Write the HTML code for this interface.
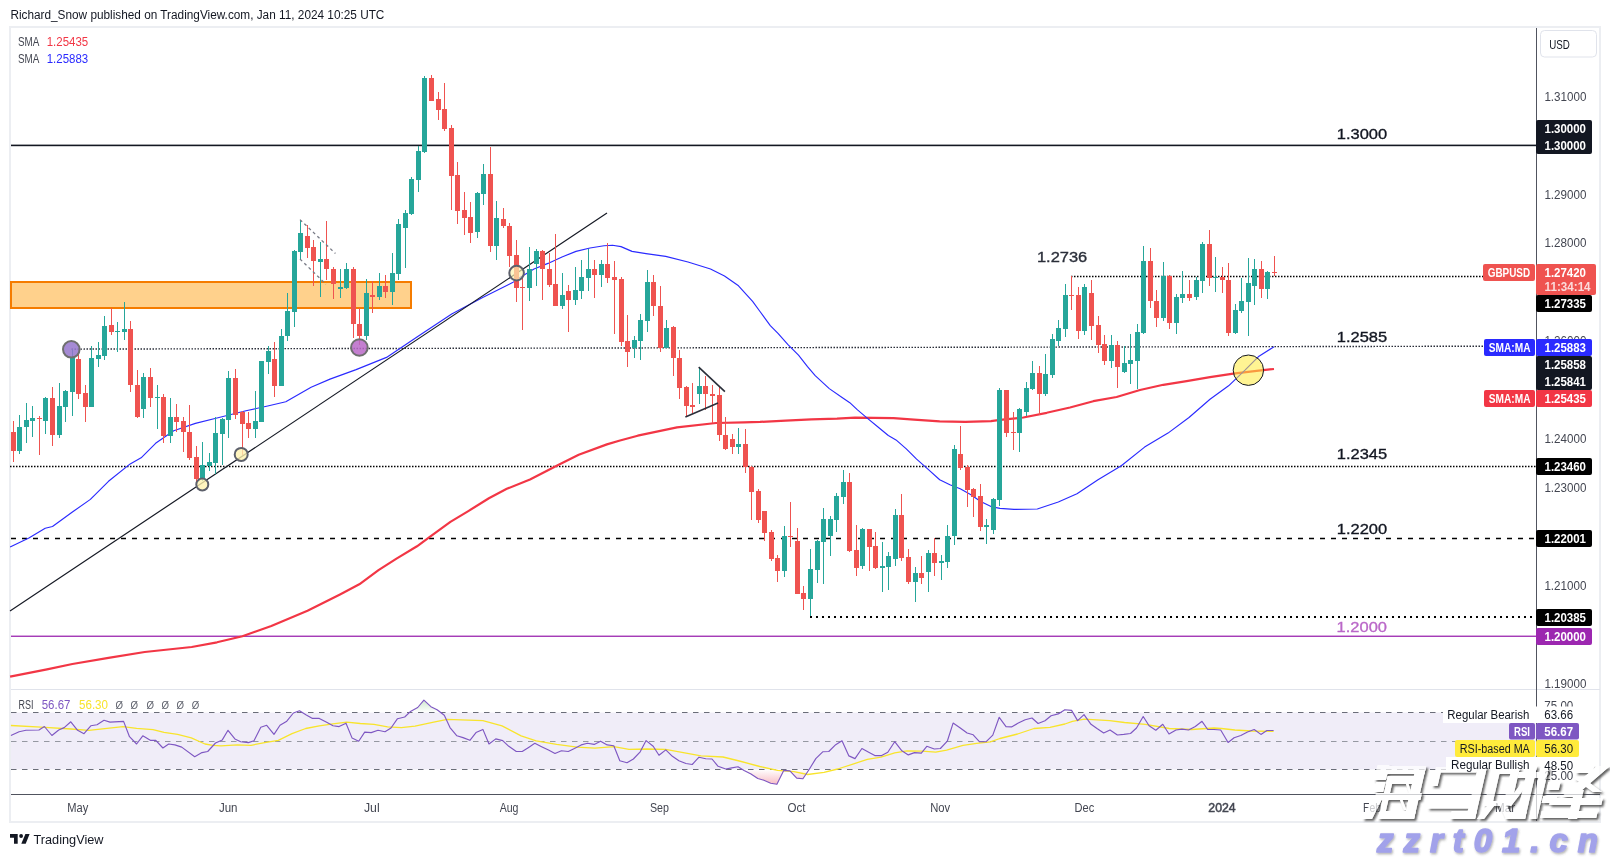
<!DOCTYPE html>
<html><head><meta charset="utf-8">
<style>
html,body{margin:0;padding:0;background:#fff;}
body{width:1610px;height:857px;overflow:hidden;position:relative;font-family:"Liberation Sans",sans-serif;}
svg{position:absolute;left:0;top:0;will-change:transform;}
text{font-family:"Liberation Sans",sans-serif;}
</style></head><body>
<svg width="1610" height="857" viewBox="0 0 1610 857">
<defs>
<clipPath id="cpOB"><rect x="0" y="680" width="1536" height="32.5"/></clipPath>
<clipPath id="cpOS"><rect x="0" y="769.5" width="1536" height="24"/></clipPath>
<linearGradient id="gOB" gradientUnits="userSpaceOnUse" x1="0" y1="700" x2="0" y2="712.5"><stop offset="0" stop-color="#cfe9cf"/><stop offset="1" stop-color="#ffffff"/></linearGradient>
<linearGradient id="gOS" gradientUnits="userSpaceOnUse" x1="0" y1="769.5" x2="0" y2="785"><stop offset="0" stop-color="#ffffff"/><stop offset="1" stop-color="#f7b9c2"/></linearGradient>
<filter id="wsh" x="-5%" y="-20%" width="115%" height="150%">
<feGaussianBlur in="SourceAlpha" stdDeviation="1" result="blur"/>
<feOffset in="blur" dx="1.5" dy="2" result="off"/>
<feFlood flood-color="#3a3a3a" flood-opacity="0.8" result="col"/>
<feComposite in="col" in2="off" operator="in" result="sh"/>
<feComposite in="sh" in2="SourceAlpha" operator="out" result="sh2"/>
<feColorMatrix in="SourceGraphic" type="matrix" values="1 0 0 0 0  0 1 0 0 0  0 0 1 0 0  0 0 0 0.72 0" result="wh"/>
<feMerge><feMergeNode in="sh2"/><feMergeNode in="wh"/></feMerge>
</filter>
<filter id="zsh" x="-5%" y="-20%" width="115%" height="150%"><feDropShadow dx="1" dy="1.5" stdDeviation="0.8" flood-color="#555" flood-opacity="0.45"/></filter>
</defs>
<!-- title -->
<text x="10.4" y="19" font-size="12" fill="#131722" textLength="374" lengthAdjust="spacingAndGlyphs">Richard_Snow published on TradingView.com, Jan 11, 2024 10:25 UTC</text>
<!-- frame -->
<rect x="10" y="27" width="1590" height="795" fill="none" stroke="#eceef2" stroke-width="2"/>
<!-- RSI band -->
<rect x="11" y="712.5" width="1525" height="57" fill="#f0edf8"/>
<!-- panel separator -->
<rect x="11" y="689" width="1589" height="1" fill="#e0e3eb"/>
<!-- axis separators -->
<rect x="1536" y="28" width="1" height="766" fill="#50535e"/>
<rect x="11" y="794" width="1589" height="1" fill="#50535e"/>
<rect x="1536" y="794" width="1" height="27" fill="#50535e"/>
<!-- orange zone -->
<rect x="11" y="282" width="400" height="26" fill="#ffcc80" fill-opacity="0.9" stroke="#f57c00" stroke-width="2"/>
<!-- horizontal lines -->
<rect x="11" y="144.6" width="1525" height="1.6" fill="#131722"/>
<line x1="1071" y1="276.5" x2="1483" y2="276.5" stroke="#000" stroke-width="1.6" stroke-dasharray="1.5 1.5"/>
<line x1="71.5" y1="349.1" x2="1484" y2="346.2" stroke="#2a2e39" stroke-width="1.4" stroke-dasharray="1.5 1.5"/>
<line x1="10" y1="466.5" x2="1536" y2="466.5" stroke="#000" stroke-width="1.5" stroke-dasharray="1.5 1.5"/>
<line x1="11" y1="538.5" x2="1536" y2="538.5" stroke="#000" stroke-width="1.6" stroke-dasharray="5 6"/>
<line x1="810" y1="617" x2="1536" y2="617" stroke="#000" stroke-width="2" stroke-dasharray="2 4"/>
<rect x="11" y="635.6" width="1525" height="1.3" fill="#9c27b0"/>
<!-- MAs -->
<polyline points="10.1,676.7 47,669.4 72.4,664 108.5,657.9 144.7,652 191.7,647 217,642.3 242.4,636.2 271.3,626 307.5,610.8 340,594.5 359.3,584.3 378.5,570.2 396.5,558.6 417,546.3 429.8,536.8 450.4,521.9 468.3,511.1 488.9,498.3 506.8,488.8 530,479.5 558.2,464.9 578.7,454.7 606.9,444.4 620,440.5 637.7,435.7 677,427.3 716,423 744,422.3 760,421.9 785.7,420.6 811.3,419.4 837,418.6 855,417.6 893.5,418.1 914,419.6 939.7,421.4 965.3,421.9 991,421.1 1000,419.9 1023.3,417.5 1046.7,412.8 1070,407.5 1093.3,401.2 1116.6,397 1140,390 1163.3,384.8 1186.6,381.1 1210,377.1 1233.3,373.7 1256.6,370.9 1274,369" fill="none" stroke="#f23645" stroke-width="2.2" stroke-linejoin="round"/>
<polyline points="10.1,547.1 28.9,538.1 45.2,528.3 52.5,526.5 72.4,512 90.4,499.4 108.5,481.3 130.2,463.9 141.1,457.8 155.6,443.3 173.7,430.7 195.4,423.4 217,418 246,410.8 267.7,406 285.8,401.7 311.1,387.2 330,379.1 356.1,369.6 386.5,357.4 417,337 451.7,313.9 482.2,297.8 512.6,282.6 520,277.4 534,269 548,263.4 562,257 576,251.4 590,248 604,245.8 612.5,245.2 621,246.6 632,251.4 646,253.6 665.7,256.4 688,262 710.5,269 724.5,276 738.5,285.8 752.6,301.3 760,311.5 770.3,325.7 778,333.4 788.2,344.9 798.5,355.2 807.5,366.7 815.2,375.7 829.3,388.6 842.1,397.5 849.8,402.7 857.5,409.9 867.8,418.6 878,427 888.3,435.5 896,439.9 906.3,448.9 916.6,459.1 926.8,468.1 939.7,479.7 949.9,484.8 960.2,488.7 970.5,494.6 980.7,501.5 991,506.6 1000,508.4 1014,509.4 1037.3,509 1058.3,502 1077,493.8 1098,479.8 1121.3,465.8 1144.6,447.1 1168,433.1 1189,417.5 1210,399.3 1228.6,385.8 1245,370.2 1259,356.2 1274,346.8" fill="none" stroke="#2a2aff" stroke-width="1.15" stroke-linejoin="round"/>
<!-- trendline -->
<line x1="10" y1="611" x2="607" y2="213" stroke="#131722" stroke-width="1.15"/>
<!-- candles -->
<rect x="13" y="421" width="1" height="41" fill="#ef5350"/>
<rect x="11" y="432" width="5" height="19" fill="#ef5350"/>
<rect x="19" y="415" width="1" height="39" fill="#26a69a"/>
<rect x="17" y="427" width="5" height="24" fill="#26a69a"/>
<rect x="26" y="403" width="1" height="40" fill="#26a69a"/>
<rect x="24" y="420" width="5" height="7" fill="#26a69a"/>
<rect x="32" y="406" width="1" height="31" fill="#26a69a"/>
<rect x="30" y="418" width="5" height="3" fill="#26a69a"/>
<rect x="39" y="416" width="1" height="39" fill="#ef5350"/>
<rect x="37" y="418" width="5" height="1" fill="#ef5350"/>
<rect x="45" y="397" width="1" height="37" fill="#26a69a"/>
<rect x="43" y="398" width="5" height="23" fill="#26a69a"/>
<rect x="52" y="387" width="1" height="59" fill="#ef5350"/>
<rect x="50" y="398" width="5" height="37" fill="#ef5350"/>
<rect x="59" y="383" width="1" height="55" fill="#26a69a"/>
<rect x="57" y="406" width="5" height="29" fill="#26a69a"/>
<rect x="65" y="390" width="1" height="32" fill="#26a69a"/>
<rect x="63" y="391" width="5" height="16" fill="#26a69a"/>
<rect x="72" y="349" width="1" height="67" fill="#26a69a"/>
<rect x="70" y="357" width="5" height="35" fill="#26a69a"/>
<rect x="78" y="354" width="1" height="45" fill="#ef5350"/>
<rect x="76" y="359" width="5" height="35" fill="#ef5350"/>
<rect x="85" y="385" width="1" height="37" fill="#ef5350"/>
<rect x="83" y="393" width="5" height="14" fill="#ef5350"/>
<rect x="91" y="346" width="1" height="61" fill="#26a69a"/>
<rect x="89" y="358" width="5" height="49" fill="#26a69a"/>
<rect x="98" y="342" width="1" height="25" fill="#26a69a"/>
<rect x="96" y="355" width="5" height="4" fill="#26a69a"/>
<rect x="104" y="316" width="1" height="44" fill="#26a69a"/>
<rect x="102" y="326" width="5" height="30" fill="#26a69a"/>
<rect x="111" y="308" width="1" height="27" fill="#ef5350"/>
<rect x="109" y="325" width="5" height="7" fill="#ef5350"/>
<rect x="117" y="322" width="1" height="30" fill="#26a69a"/>
<rect x="115" y="331" width="5" height="1" fill="#26a69a"/>
<rect x="124" y="302" width="1" height="38" fill="#26a69a"/>
<rect x="122" y="329" width="5" height="3" fill="#26a69a"/>
<rect x="130" y="321" width="1" height="71" fill="#ef5350"/>
<rect x="128" y="329" width="5" height="56" fill="#ef5350"/>
<rect x="137" y="370" width="1" height="48" fill="#ef5350"/>
<rect x="135" y="385" width="5" height="32" fill="#ef5350"/>
<rect x="143" y="373" width="1" height="45" fill="#26a69a"/>
<rect x="141" y="377" width="5" height="32" fill="#26a69a"/>
<rect x="150" y="368" width="1" height="39" fill="#ef5350"/>
<rect x="148" y="377" width="5" height="21" fill="#ef5350"/>
<rect x="157" y="385" width="1" height="44" fill="#26a69a"/>
<rect x="155" y="397" width="5" height="1" fill="#26a69a"/>
<rect x="163" y="394" width="1" height="49" fill="#ef5350"/>
<rect x="161" y="397" width="5" height="39" fill="#ef5350"/>
<rect x="170" y="398" width="1" height="45" fill="#26a69a"/>
<rect x="168" y="417" width="5" height="19" fill="#26a69a"/>
<rect x="176" y="404" width="1" height="28" fill="#ef5350"/>
<rect x="174" y="417" width="5" height="5" fill="#ef5350"/>
<rect x="183" y="417" width="1" height="35" fill="#ef5350"/>
<rect x="181" y="421" width="5" height="11" fill="#ef5350"/>
<rect x="189" y="405" width="1" height="55" fill="#ef5350"/>
<rect x="187" y="432" width="5" height="26" fill="#ef5350"/>
<rect x="196" y="446" width="1" height="38" fill="#ef5350"/>
<rect x="194" y="457" width="5" height="22" fill="#ef5350"/>
<rect x="202" y="442" width="1" height="39" fill="#26a69a"/>
<rect x="200" y="465" width="5" height="13" fill="#26a69a"/>
<rect x="209" y="453" width="1" height="18" fill="#26a69a"/>
<rect x="207" y="462" width="5" height="4" fill="#26a69a"/>
<rect x="215" y="417" width="1" height="57" fill="#26a69a"/>
<rect x="213" y="433" width="5" height="30" fill="#26a69a"/>
<rect x="222" y="418" width="1" height="47" fill="#26a69a"/>
<rect x="220" y="419" width="5" height="15" fill="#26a69a"/>
<rect x="228" y="371" width="1" height="67" fill="#26a69a"/>
<rect x="226" y="378" width="5" height="42" fill="#26a69a"/>
<rect x="235" y="369" width="1" height="50" fill="#ef5350"/>
<rect x="233" y="378" width="5" height="37" fill="#ef5350"/>
<rect x="242" y="411" width="1" height="44" fill="#ef5350"/>
<rect x="240" y="412" width="5" height="12" fill="#ef5350"/>
<rect x="248" y="412" width="1" height="26" fill="#ef5350"/>
<rect x="246" y="423" width="5" height="6" fill="#ef5350"/>
<rect x="255" y="391" width="1" height="47" fill="#26a69a"/>
<rect x="253" y="421" width="5" height="8" fill="#26a69a"/>
<rect x="261" y="361" width="1" height="61" fill="#26a69a"/>
<rect x="259" y="361" width="5" height="61" fill="#26a69a"/>
<rect x="268" y="346" width="1" height="28" fill="#26a69a"/>
<rect x="266" y="351" width="5" height="11" fill="#26a69a"/>
<rect x="274" y="342" width="1" height="55" fill="#ef5350"/>
<rect x="272" y="359" width="5" height="27" fill="#ef5350"/>
<rect x="281" y="329" width="1" height="57" fill="#26a69a"/>
<rect x="279" y="336" width="5" height="50" fill="#26a69a"/>
<rect x="287" y="293" width="1" height="48" fill="#26a69a"/>
<rect x="285" y="311" width="5" height="25" fill="#26a69a"/>
<rect x="294" y="250" width="1" height="77" fill="#26a69a"/>
<rect x="292" y="251" width="5" height="61" fill="#26a69a"/>
<rect x="300" y="220" width="1" height="39" fill="#26a69a"/>
<rect x="298" y="233" width="5" height="19" fill="#26a69a"/>
<rect x="307" y="225" width="1" height="33" fill="#ef5350"/>
<rect x="305" y="236" width="5" height="12" fill="#ef5350"/>
<rect x="313" y="240" width="1" height="46" fill="#ef5350"/>
<rect x="311" y="247" width="5" height="14" fill="#ef5350"/>
<rect x="320" y="242" width="1" height="55" fill="#26a69a"/>
<rect x="318" y="259" width="5" height="3" fill="#26a69a"/>
<rect x="326" y="221" width="1" height="59" fill="#ef5350"/>
<rect x="324" y="259" width="5" height="10" fill="#ef5350"/>
<rect x="333" y="267" width="1" height="32" fill="#ef5350"/>
<rect x="331" y="269" width="5" height="15" fill="#ef5350"/>
<rect x="340" y="269" width="1" height="29" fill="#26a69a"/>
<rect x="338" y="287" width="5" height="2" fill="#26a69a"/>
<rect x="346" y="263" width="1" height="26" fill="#26a69a"/>
<rect x="344" y="269" width="5" height="19" fill="#26a69a"/>
<rect x="353" y="267" width="1" height="71" fill="#ef5350"/>
<rect x="351" y="269" width="5" height="55" fill="#ef5350"/>
<rect x="359" y="308" width="1" height="37" fill="#ef5350"/>
<rect x="357" y="324" width="5" height="12" fill="#ef5350"/>
<rect x="366" y="279" width="1" height="61" fill="#26a69a"/>
<rect x="364" y="293" width="5" height="43" fill="#26a69a"/>
<rect x="372" y="281" width="1" height="32" fill="#ef5350"/>
<rect x="370" y="295" width="5" height="2" fill="#ef5350"/>
<rect x="379" y="273" width="1" height="27" fill="#26a69a"/>
<rect x="377" y="286" width="5" height="11" fill="#26a69a"/>
<rect x="385" y="275" width="1" height="23" fill="#ef5350"/>
<rect x="383" y="286" width="5" height="6" fill="#ef5350"/>
<rect x="392" y="253" width="1" height="52" fill="#26a69a"/>
<rect x="390" y="273" width="5" height="19" fill="#26a69a"/>
<rect x="398" y="219" width="1" height="61" fill="#26a69a"/>
<rect x="396" y="224" width="5" height="50" fill="#26a69a"/>
<rect x="405" y="210" width="1" height="58" fill="#26a69a"/>
<rect x="403" y="213" width="5" height="15" fill="#26a69a"/>
<rect x="411" y="177" width="1" height="38" fill="#26a69a"/>
<rect x="409" y="179" width="5" height="35" fill="#26a69a"/>
<rect x="418" y="146" width="1" height="46" fill="#26a69a"/>
<rect x="416" y="151" width="5" height="29" fill="#26a69a"/>
<rect x="424" y="76" width="1" height="77" fill="#26a69a"/>
<rect x="422" y="78" width="5" height="74" fill="#26a69a"/>
<rect x="431" y="75" width="1" height="26" fill="#ef5350"/>
<rect x="429" y="78" width="5" height="23" fill="#ef5350"/>
<rect x="438" y="92" width="1" height="28" fill="#ef5350"/>
<rect x="436" y="99" width="5" height="11" fill="#ef5350"/>
<rect x="444" y="83" width="1" height="48" fill="#ef5350"/>
<rect x="442" y="109" width="5" height="20" fill="#ef5350"/>
<rect x="451" y="125" width="1" height="85" fill="#ef5350"/>
<rect x="449" y="128" width="5" height="48" fill="#ef5350"/>
<rect x="457" y="162" width="1" height="62" fill="#ef5350"/>
<rect x="455" y="175" width="5" height="36" fill="#ef5350"/>
<rect x="464" y="192" width="1" height="43" fill="#ef5350"/>
<rect x="462" y="210" width="5" height="8" fill="#ef5350"/>
<rect x="470" y="202" width="1" height="41" fill="#ef5350"/>
<rect x="468" y="217" width="5" height="16" fill="#ef5350"/>
<rect x="477" y="192" width="1" height="46" fill="#26a69a"/>
<rect x="475" y="193" width="5" height="39" fill="#26a69a"/>
<rect x="483" y="164" width="1" height="41" fill="#26a69a"/>
<rect x="481" y="174" width="5" height="20" fill="#26a69a"/>
<rect x="490" y="147" width="1" height="105" fill="#ef5350"/>
<rect x="488" y="174" width="5" height="72" fill="#ef5350"/>
<rect x="496" y="201" width="1" height="59" fill="#26a69a"/>
<rect x="494" y="218" width="5" height="28" fill="#26a69a"/>
<rect x="503" y="208" width="1" height="20" fill="#ef5350"/>
<rect x="501" y="219" width="5" height="7" fill="#ef5350"/>
<rect x="509" y="223" width="1" height="44" fill="#ef5350"/>
<rect x="507" y="226" width="5" height="30" fill="#ef5350"/>
<rect x="516" y="240" width="1" height="62" fill="#ef5350"/>
<rect x="514" y="255" width="5" height="33" fill="#ef5350"/>
<rect x="522" y="278" width="1" height="52" fill="#ef5350"/>
<rect x="520" y="287" width="5" height="1" fill="#ef5350"/>
<rect x="529" y="247" width="1" height="54" fill="#26a69a"/>
<rect x="527" y="269" width="5" height="19" fill="#26a69a"/>
<rect x="536" y="249" width="1" height="37" fill="#26a69a"/>
<rect x="534" y="251" width="5" height="13" fill="#26a69a"/>
<rect x="542" y="250" width="1" height="50" fill="#ef5350"/>
<rect x="540" y="251" width="5" height="18" fill="#ef5350"/>
<rect x="549" y="253" width="1" height="34" fill="#ef5350"/>
<rect x="547" y="269" width="5" height="16" fill="#ef5350"/>
<rect x="555" y="234" width="1" height="72" fill="#ef5350"/>
<rect x="553" y="284" width="5" height="22" fill="#ef5350"/>
<rect x="562" y="273" width="1" height="36" fill="#26a69a"/>
<rect x="560" y="295" width="5" height="11" fill="#26a69a"/>
<rect x="568" y="285" width="1" height="47" fill="#ef5350"/>
<rect x="566" y="291" width="5" height="9" fill="#ef5350"/>
<rect x="575" y="267" width="1" height="38" fill="#26a69a"/>
<rect x="573" y="290" width="5" height="10" fill="#26a69a"/>
<rect x="581" y="260" width="1" height="39" fill="#26a69a"/>
<rect x="579" y="277" width="5" height="14" fill="#26a69a"/>
<rect x="588" y="249" width="1" height="42" fill="#26a69a"/>
<rect x="586" y="269" width="5" height="9" fill="#26a69a"/>
<rect x="594" y="260" width="1" height="38" fill="#ef5350"/>
<rect x="592" y="269" width="5" height="6" fill="#ef5350"/>
<rect x="601" y="260" width="1" height="27" fill="#26a69a"/>
<rect x="599" y="264" width="5" height="11" fill="#26a69a"/>
<rect x="607" y="243" width="1" height="40" fill="#ef5350"/>
<rect x="605" y="264" width="5" height="14" fill="#ef5350"/>
<rect x="614" y="261" width="1" height="73" fill="#ef5350"/>
<rect x="612" y="277" width="5" height="3" fill="#ef5350"/>
<rect x="621" y="277" width="1" height="69" fill="#ef5350"/>
<rect x="619" y="279" width="5" height="63" fill="#ef5350"/>
<rect x="627" y="315" width="1" height="52" fill="#ef5350"/>
<rect x="625" y="341" width="5" height="11" fill="#ef5350"/>
<rect x="634" y="336" width="1" height="22" fill="#26a69a"/>
<rect x="632" y="340" width="5" height="8" fill="#26a69a"/>
<rect x="640" y="314" width="1" height="46" fill="#26a69a"/>
<rect x="638" y="320" width="5" height="21" fill="#26a69a"/>
<rect x="647" y="270" width="1" height="62" fill="#26a69a"/>
<rect x="645" y="282" width="5" height="39" fill="#26a69a"/>
<rect x="653" y="275" width="1" height="41" fill="#ef5350"/>
<rect x="651" y="282" width="5" height="24" fill="#ef5350"/>
<rect x="660" y="286" width="1" height="66" fill="#ef5350"/>
<rect x="658" y="306" width="5" height="42" fill="#ef5350"/>
<rect x="666" y="320" width="1" height="28" fill="#26a69a"/>
<rect x="664" y="328" width="5" height="20" fill="#26a69a"/>
<rect x="673" y="326" width="1" height="50" fill="#ef5350"/>
<rect x="671" y="327" width="5" height="31" fill="#ef5350"/>
<rect x="679" y="350" width="1" height="49" fill="#ef5350"/>
<rect x="677" y="358" width="5" height="30" fill="#ef5350"/>
<rect x="686" y="386" width="1" height="31" fill="#ef5350"/>
<rect x="684" y="387" width="5" height="19" fill="#ef5350"/>
<rect x="692" y="383" width="1" height="30" fill="#ef5350"/>
<rect x="690" y="405" width="5" height="2" fill="#ef5350"/>
<rect x="699" y="367" width="1" height="37" fill="#26a69a"/>
<rect x="697" y="386" width="5" height="8" fill="#26a69a"/>
<rect x="705" y="376" width="1" height="34" fill="#ef5350"/>
<rect x="703" y="386" width="5" height="8" fill="#ef5350"/>
<rect x="712" y="385" width="1" height="38" fill="#ef5350"/>
<rect x="710" y="394" width="5" height="2" fill="#ef5350"/>
<rect x="719" y="387" width="1" height="54" fill="#ef5350"/>
<rect x="717" y="395" width="5" height="40" fill="#ef5350"/>
<rect x="725" y="417" width="1" height="33" fill="#ef5350"/>
<rect x="723" y="435" width="5" height="14" fill="#ef5350"/>
<rect x="732" y="434" width="1" height="20" fill="#ef5350"/>
<rect x="730" y="439" width="5" height="8" fill="#ef5350"/>
<rect x="738" y="428" width="1" height="26" fill="#26a69a"/>
<rect x="736" y="444" width="5" height="3" fill="#26a69a"/>
<rect x="745" y="429" width="1" height="44" fill="#ef5350"/>
<rect x="743" y="444" width="5" height="23" fill="#ef5350"/>
<rect x="751" y="466" width="1" height="54" fill="#ef5350"/>
<rect x="749" y="467" width="5" height="25" fill="#ef5350"/>
<rect x="758" y="489" width="1" height="34" fill="#ef5350"/>
<rect x="756" y="491" width="5" height="29" fill="#ef5350"/>
<rect x="764" y="511" width="1" height="30" fill="#ef5350"/>
<rect x="762" y="511" width="5" height="22" fill="#ef5350"/>
<rect x="771" y="530" width="1" height="31" fill="#ef5350"/>
<rect x="769" y="532" width="5" height="27" fill="#ef5350"/>
<rect x="777" y="555" width="1" height="27" fill="#ef5350"/>
<rect x="775" y="558" width="5" height="13" fill="#ef5350"/>
<rect x="784" y="526" width="1" height="51" fill="#26a69a"/>
<rect x="782" y="536" width="5" height="35" fill="#26a69a"/>
<rect x="790" y="502" width="1" height="45" fill="#ef5350"/>
<rect x="788" y="536" width="5" height="1" fill="#ef5350"/>
<rect x="797" y="528" width="1" height="66" fill="#ef5350"/>
<rect x="795" y="541" width="5" height="53" fill="#ef5350"/>
<rect x="803" y="586" width="1" height="24" fill="#ef5350"/>
<rect x="801" y="593" width="5" height="6" fill="#ef5350"/>
<rect x="810" y="549" width="1" height="67" fill="#26a69a"/>
<rect x="808" y="569" width="5" height="30" fill="#26a69a"/>
<rect x="817" y="540" width="1" height="43" fill="#26a69a"/>
<rect x="815" y="541" width="5" height="29" fill="#26a69a"/>
<rect x="823" y="508" width="1" height="76" fill="#26a69a"/>
<rect x="821" y="519" width="5" height="23" fill="#26a69a"/>
<rect x="830" y="516" width="1" height="40" fill="#26a69a"/>
<rect x="828" y="519" width="5" height="17" fill="#26a69a"/>
<rect x="836" y="493" width="1" height="39" fill="#26a69a"/>
<rect x="834" y="496" width="5" height="24" fill="#26a69a"/>
<rect x="843" y="470" width="1" height="34" fill="#26a69a"/>
<rect x="841" y="482" width="5" height="15" fill="#26a69a"/>
<rect x="849" y="473" width="1" height="79" fill="#ef5350"/>
<rect x="847" y="482" width="5" height="69" fill="#ef5350"/>
<rect x="856" y="525" width="1" height="51" fill="#ef5350"/>
<rect x="854" y="550" width="5" height="18" fill="#ef5350"/>
<rect x="862" y="528" width="1" height="41" fill="#26a69a"/>
<rect x="860" y="529" width="5" height="37" fill="#26a69a"/>
<rect x="869" y="529" width="1" height="42" fill="#ef5350"/>
<rect x="867" y="529" width="5" height="18" fill="#ef5350"/>
<rect x="875" y="532" width="1" height="37" fill="#ef5350"/>
<rect x="873" y="546" width="5" height="22" fill="#ef5350"/>
<rect x="882" y="542" width="1" height="50" fill="#26a69a"/>
<rect x="880" y="566" width="5" height="2" fill="#26a69a"/>
<rect x="888" y="552" width="1" height="38" fill="#26a69a"/>
<rect x="886" y="556" width="5" height="11" fill="#26a69a"/>
<rect x="895" y="509" width="1" height="57" fill="#26a69a"/>
<rect x="893" y="515" width="5" height="44" fill="#26a69a"/>
<rect x="901" y="494" width="1" height="67" fill="#ef5350"/>
<rect x="899" y="515" width="5" height="43" fill="#ef5350"/>
<rect x="908" y="549" width="1" height="35" fill="#ef5350"/>
<rect x="906" y="557" width="5" height="25" fill="#ef5350"/>
<rect x="915" y="567" width="1" height="35" fill="#26a69a"/>
<rect x="913" y="573" width="5" height="9" fill="#26a69a"/>
<rect x="921" y="556" width="1" height="28" fill="#ef5350"/>
<rect x="919" y="573" width="5" height="5" fill="#ef5350"/>
<rect x="928" y="550" width="1" height="42" fill="#26a69a"/>
<rect x="926" y="553" width="5" height="19" fill="#26a69a"/>
<rect x="934" y="538" width="1" height="38" fill="#ef5350"/>
<rect x="932" y="553" width="5" height="10" fill="#ef5350"/>
<rect x="941" y="555" width="1" height="25" fill="#26a69a"/>
<rect x="939" y="561" width="5" height="2" fill="#26a69a"/>
<rect x="947" y="525" width="1" height="43" fill="#26a69a"/>
<rect x="945" y="536" width="5" height="26" fill="#26a69a"/>
<rect x="954" y="445" width="1" height="100" fill="#26a69a"/>
<rect x="952" y="449" width="5" height="87" fill="#26a69a"/>
<rect x="960" y="426" width="1" height="44" fill="#ef5350"/>
<rect x="958" y="454" width="5" height="14" fill="#ef5350"/>
<rect x="967" y="465" width="1" height="42" fill="#ef5350"/>
<rect x="965" y="467" width="5" height="23" fill="#ef5350"/>
<rect x="973" y="488" width="1" height="29" fill="#ef5350"/>
<rect x="971" y="489" width="5" height="8" fill="#ef5350"/>
<rect x="980" y="484" width="1" height="47" fill="#ef5350"/>
<rect x="978" y="496" width="5" height="31" fill="#ef5350"/>
<rect x="986" y="519" width="1" height="25" fill="#26a69a"/>
<rect x="984" y="525" width="5" height="2" fill="#26a69a"/>
<rect x="993" y="498" width="1" height="36" fill="#26a69a"/>
<rect x="991" y="499" width="5" height="31" fill="#26a69a"/>
<rect x="999" y="388" width="1" height="118" fill="#26a69a"/>
<rect x="997" y="390" width="5" height="110" fill="#26a69a"/>
<rect x="1006" y="390" width="1" height="47" fill="#ef5350"/>
<rect x="1004" y="390" width="5" height="43" fill="#ef5350"/>
<rect x="1013" y="412" width="1" height="38" fill="#ef5350"/>
<rect x="1011" y="432" width="5" height="1" fill="#ef5350"/>
<rect x="1019" y="408" width="1" height="44" fill="#26a69a"/>
<rect x="1017" y="409" width="5" height="24" fill="#26a69a"/>
<rect x="1026" y="382" width="1" height="34" fill="#26a69a"/>
<rect x="1024" y="388" width="5" height="24" fill="#26a69a"/>
<rect x="1032" y="361" width="1" height="29" fill="#26a69a"/>
<rect x="1030" y="373" width="5" height="16" fill="#26a69a"/>
<rect x="1039" y="366" width="1" height="49" fill="#ef5350"/>
<rect x="1037" y="373" width="5" height="21" fill="#ef5350"/>
<rect x="1045" y="354" width="1" height="42" fill="#26a69a"/>
<rect x="1043" y="374" width="5" height="20" fill="#26a69a"/>
<rect x="1052" y="334" width="1" height="44" fill="#26a69a"/>
<rect x="1050" y="339" width="5" height="36" fill="#26a69a"/>
<rect x="1058" y="320" width="1" height="26" fill="#26a69a"/>
<rect x="1056" y="328" width="5" height="13" fill="#26a69a"/>
<rect x="1065" y="284" width="1" height="53" fill="#26a69a"/>
<rect x="1063" y="295" width="5" height="34" fill="#26a69a"/>
<rect x="1071" y="276" width="1" height="34" fill="#ef5350"/>
<rect x="1069" y="295" width="5" height="1" fill="#ef5350"/>
<rect x="1078" y="287" width="1" height="52" fill="#ef5350"/>
<rect x="1076" y="295" width="5" height="36" fill="#ef5350"/>
<rect x="1084" y="284" width="1" height="51" fill="#26a69a"/>
<rect x="1082" y="287" width="5" height="44" fill="#26a69a"/>
<rect x="1091" y="280" width="1" height="60" fill="#ef5350"/>
<rect x="1089" y="293" width="5" height="33" fill="#ef5350"/>
<rect x="1098" y="316" width="1" height="37" fill="#ef5350"/>
<rect x="1096" y="325" width="5" height="20" fill="#ef5350"/>
<rect x="1104" y="335" width="1" height="30" fill="#ef5350"/>
<rect x="1102" y="344" width="5" height="17" fill="#ef5350"/>
<rect x="1111" y="335" width="1" height="33" fill="#26a69a"/>
<rect x="1109" y="345" width="5" height="16" fill="#26a69a"/>
<rect x="1117" y="341" width="1" height="47" fill="#ef5350"/>
<rect x="1115" y="345" width="5" height="22" fill="#ef5350"/>
<rect x="1124" y="346" width="1" height="27" fill="#26a69a"/>
<rect x="1122" y="363" width="5" height="9" fill="#26a69a"/>
<rect x="1130" y="334" width="1" height="50" fill="#26a69a"/>
<rect x="1128" y="360" width="5" height="4" fill="#26a69a"/>
<rect x="1137" y="324" width="1" height="65" fill="#26a69a"/>
<rect x="1135" y="332" width="5" height="29" fill="#26a69a"/>
<rect x="1143" y="246" width="1" height="88" fill="#26a69a"/>
<rect x="1141" y="261" width="5" height="72" fill="#26a69a"/>
<rect x="1150" y="248" width="1" height="60" fill="#ef5350"/>
<rect x="1148" y="261" width="5" height="40" fill="#ef5350"/>
<rect x="1156" y="290" width="1" height="37" fill="#ef5350"/>
<rect x="1154" y="301" width="5" height="17" fill="#ef5350"/>
<rect x="1163" y="262" width="1" height="59" fill="#26a69a"/>
<rect x="1161" y="276" width="5" height="42" fill="#26a69a"/>
<rect x="1169" y="275" width="1" height="54" fill="#ef5350"/>
<rect x="1167" y="276" width="5" height="47" fill="#ef5350"/>
<rect x="1176" y="294" width="1" height="40" fill="#26a69a"/>
<rect x="1174" y="297" width="5" height="26" fill="#26a69a"/>
<rect x="1182" y="271" width="1" height="32" fill="#26a69a"/>
<rect x="1180" y="294" width="5" height="4" fill="#26a69a"/>
<rect x="1189" y="280" width="1" height="21" fill="#ef5350"/>
<rect x="1187" y="294" width="5" height="4" fill="#ef5350"/>
<rect x="1196" y="277" width="1" height="23" fill="#26a69a"/>
<rect x="1194" y="280" width="5" height="17" fill="#26a69a"/>
<rect x="1202" y="242" width="1" height="51" fill="#26a69a"/>
<rect x="1200" y="244" width="5" height="37" fill="#26a69a"/>
<rect x="1209" y="230" width="1" height="56" fill="#ef5350"/>
<rect x="1207" y="244" width="5" height="34" fill="#ef5350"/>
<rect x="1215" y="257" width="1" height="35" fill="#26a69a"/>
<rect x="1213" y="277" width="5" height="1" fill="#26a69a"/>
<rect x="1222" y="267" width="1" height="26" fill="#ef5350"/>
<rect x="1220" y="277" width="5" height="3" fill="#ef5350"/>
<rect x="1228" y="263" width="1" height="73" fill="#ef5350"/>
<rect x="1226" y="280" width="5" height="53" fill="#ef5350"/>
<rect x="1235" y="304" width="1" height="30" fill="#26a69a"/>
<rect x="1233" y="310" width="5" height="23" fill="#26a69a"/>
<rect x="1241" y="278" width="1" height="35" fill="#26a69a"/>
<rect x="1239" y="301" width="5" height="10" fill="#26a69a"/>
<rect x="1248" y="258" width="1" height="78" fill="#26a69a"/>
<rect x="1246" y="283" width="5" height="19" fill="#26a69a"/>
<rect x="1254" y="259" width="1" height="46" fill="#26a69a"/>
<rect x="1252" y="269" width="5" height="17" fill="#26a69a"/>
<rect x="1261" y="261" width="1" height="37" fill="#ef5350"/>
<rect x="1259" y="269" width="5" height="20" fill="#ef5350"/>
<rect x="1267" y="271" width="1" height="28" fill="#26a69a"/>
<rect x="1265" y="272" width="5" height="17" fill="#26a69a"/>
<rect x="1274" y="256" width="1" height="20" fill="#ef5350"/>
<rect x="1272" y="272" width="5" height="1" fill="#ef5350"/>
<!-- drawings -->
<line x1="300" y1="219.6" x2="335.4" y2="253.5" stroke="#787b86" stroke-width="1.3" stroke-dasharray="3 3"/>
<line x1="300" y1="259" x2="326" y2="284.3" stroke="#787b86" stroke-width="1.3" stroke-dasharray="3 3"/>
<line x1="698.7" y1="367.1" x2="724.9" y2="391.7" stroke="#2a2e39" stroke-width="1.6"/>
<line x1="685.4" y1="417" x2="718" y2="403" stroke="#2a2e39" stroke-width="1.6"/>
<circle cx="71.3" cy="349.3" r="8.3" fill="#9575cd" fill-opacity="0.85" stroke="#6f6f6f" stroke-width="2"/>
<circle cx="359.4" cy="347.5" r="8.3" fill="#ba68c8" fill-opacity="0.85" stroke="#6f6f6f" stroke-width="2"/>
<circle cx="202.3" cy="484.5" r="6" fill="#fff3b0" fill-opacity="0.8" stroke="#5d606b" stroke-width="2"/>
<circle cx="241.2" cy="454.4" r="6.5" fill="#fff3b0" fill-opacity="0.8" stroke="#5d606b" stroke-width="2"/>
<circle cx="516.6" cy="273.1" r="7.3" fill="#fff3b0" fill-opacity="0.7" stroke="#5d606b" stroke-width="2"/>
<circle cx="1248.4" cy="370.2" r="15.2" fill="#ffeb3b" fill-opacity="0.55" stroke="#131722" stroke-width="1"/>
<!-- level texts -->
<text x="1336.8" y="139" font-size="15.3" fill="#131722" textLength="50.4" lengthAdjust="spacingAndGlyphs" stroke="#131722" stroke-width="0.35">1.3000</text>
<text x="1036.9" y="262" font-size="15.3" fill="#2a2e39" textLength="50.4" lengthAdjust="spacingAndGlyphs" stroke="#2a2e39" stroke-width="0.35">1.2736</text>
<text x="1336.8" y="342" font-size="15.3" fill="#131722" textLength="50.4" lengthAdjust="spacingAndGlyphs" stroke="#131722" stroke-width="0.35">1.2585</text>
<text x="1336.8" y="459" font-size="15.3" fill="#131722" textLength="50.4" lengthAdjust="spacingAndGlyphs" stroke="#131722" stroke-width="0.35">1.2345</text>
<text x="1336.8" y="534" font-size="15.3" fill="#131722" textLength="50.4" lengthAdjust="spacingAndGlyphs" stroke="#131722" stroke-width="0.35">1.2200</text>
<text x="1336.6" y="632" font-size="15.3" fill="#ba68c8" textLength="50.4" lengthAdjust="spacingAndGlyphs" stroke="#ba68c8" stroke-width="0.35">1.2000</text>
<!-- legend -->
<text x="17.9" y="46" font-size="12" fill="#434651" textLength="21.4" lengthAdjust="spacingAndGlyphs">SMA</text>
<text x="46.7" y="46" font-size="12" fill="#f23645" textLength="41.5" lengthAdjust="spacingAndGlyphs">1.25435</text>
<text x="17.9" y="63" font-size="12" fill="#434651" textLength="21.4" lengthAdjust="spacingAndGlyphs">SMA</text>
<text x="46.7" y="63" font-size="12" fill="#2a2aff" textLength="41.5" lengthAdjust="spacingAndGlyphs">1.25883</text>
<!-- RSI -->
<path d="M10.9,712.5 L10.9,735.4 L19.1,731.7 L26,730.3 L39,730 L44.4,726.5 L51.9,735.5 L58.7,730 L64.2,727.6 L70.8,721.8 L77.6,730.3 L84,733.7 L90.8,725.8 L97,724.8 L104,720.3 L110,722.1 L123.6,721.4 L129.5,736.7 L136.6,744 L142.8,735.8 L150.3,740.3 L155.8,740.3 L162.9,748 L168.7,744 L174.9,744.9 L181.7,747.1 L194.7,756.7 L202,752.6 L207.7,751.5 L215.5,743 L222.3,739.9 L228,730.3 L234.9,738.9 L240.7,741.7 L248.3,742.6 L254,740.8 L260.8,727.2 L266.7,725.3 L274,734.4 L280,725.3 L286.8,721.2 L293.4,713 L299.5,710.8 L306.3,714.9 L312.5,718.4 L319.3,718.4 L326.2,722.1 L333,725.8 L339.1,726.6 L346,723.2 L352.1,738.1 L358.7,741.2 L364.7,732.1 L371.2,732.6 L378,730.3 L385,731.7 L391,728 L397.5,718.7 L404.7,717 L410.9,711.2 L417.7,707.5 L423.9,700.2 L430.9,706.7 L437.1,709.8 L444.3,715.3 L450,727.6 L456.9,735.8 L463,737.6 L469.9,740.3 L476,732.6 L482.9,729.4 L489,744 L495.8,738.9 L502.7,740.6 L508.8,746.3 L516.3,751.5 L522.2,751.5 L528.6,747.4 L534.8,743.3 L541.6,746.7 L548.5,750.1 L555,753.5 L561.4,750.8 L568.3,751.5 L574.4,748.5 L581.2,744.9 L587.4,743.3 L594.2,744.4 L600.6,741.2 L607.2,744.9 L613.8,745.8 L619.8,760.8 L627,762.7 L633.4,759 L640.2,751.8 L646.1,740.6 L653.2,746.3 L659,755.3 L665.8,749.9 L672.4,756.3 L678.9,760.8 L686,763.5 L692.2,764.5 L699,757.2 L705.8,758.7 L712,759 L718.1,766.3 L725.7,769 L731.8,767.9 L738,766.8 L744.1,770.4 L751,774 L757.8,778.5 L763.9,780.2 L770.7,783.2 L776.9,784.3 L783.7,770.4 L789.9,770.9 L796.7,778.1 L802.9,778.8 L809.3,769.3 L815.8,758.6 L822.7,751.8 L828.8,751.5 L835.7,744.7 L842,740.8 L848.9,755.9 L855,758.6 L861.9,748.5 L868.7,752.2 L874.8,755.6 L881.7,755.6 L887.8,752.2 L894.7,741.7 L901.5,750.4 L908.3,754.9 L914.5,752.6 L921.3,753.1 L926.8,746.3 L934.3,749 L940.4,748.5 L947.3,741.2 L953.1,723.1 L960.3,728 L967.1,733 L973.2,734.8 L979.4,741.7 L986.2,741.7 L992.8,735.1 L999.2,717.3 L1006,726.6 L1011.5,726.9 L1018.3,723.1 L1025.2,719.8 L1032,718 L1038.1,723.5 L1045,720.7 L1051.1,715.7 L1058.2,713.9 L1064.9,709.7 L1071.6,710.4 L1077.6,720.6 L1084,714.6 L1091,724.3 L1097,728.5 L1103.7,732.9 L1110,730 L1117.4,735 L1123.8,734.4 L1130.5,733.5 L1136.5,728 L1143.2,716.5 L1149.1,725.8 L1155.8,730.2 L1162.8,724.3 L1169,734 L1176,730 L1181.9,729.1 L1188.6,730 L1195.3,726.5 L1202,721.3 L1207.7,729.5 L1214,729.5 L1220.7,730 L1228.1,742.5 L1234.1,737.7 L1240.8,735.5 L1247.5,732 L1254.2,729.5 L1260.9,734.4 L1266.9,730.5 L1273.6,730.5 L1273.6,712.5 Z" fill="url(#gOB)" clip-path="url(#cpOB)"/>
<path d="M10.9,769.5 L10.9,735.4 L19.1,731.7 L26,730.3 L39,730 L44.4,726.5 L51.9,735.5 L58.7,730 L64.2,727.6 L70.8,721.8 L77.6,730.3 L84,733.7 L90.8,725.8 L97,724.8 L104,720.3 L110,722.1 L123.6,721.4 L129.5,736.7 L136.6,744 L142.8,735.8 L150.3,740.3 L155.8,740.3 L162.9,748 L168.7,744 L174.9,744.9 L181.7,747.1 L194.7,756.7 L202,752.6 L207.7,751.5 L215.5,743 L222.3,739.9 L228,730.3 L234.9,738.9 L240.7,741.7 L248.3,742.6 L254,740.8 L260.8,727.2 L266.7,725.3 L274,734.4 L280,725.3 L286.8,721.2 L293.4,713 L299.5,710.8 L306.3,714.9 L312.5,718.4 L319.3,718.4 L326.2,722.1 L333,725.8 L339.1,726.6 L346,723.2 L352.1,738.1 L358.7,741.2 L364.7,732.1 L371.2,732.6 L378,730.3 L385,731.7 L391,728 L397.5,718.7 L404.7,717 L410.9,711.2 L417.7,707.5 L423.9,700.2 L430.9,706.7 L437.1,709.8 L444.3,715.3 L450,727.6 L456.9,735.8 L463,737.6 L469.9,740.3 L476,732.6 L482.9,729.4 L489,744 L495.8,738.9 L502.7,740.6 L508.8,746.3 L516.3,751.5 L522.2,751.5 L528.6,747.4 L534.8,743.3 L541.6,746.7 L548.5,750.1 L555,753.5 L561.4,750.8 L568.3,751.5 L574.4,748.5 L581.2,744.9 L587.4,743.3 L594.2,744.4 L600.6,741.2 L607.2,744.9 L613.8,745.8 L619.8,760.8 L627,762.7 L633.4,759 L640.2,751.8 L646.1,740.6 L653.2,746.3 L659,755.3 L665.8,749.9 L672.4,756.3 L678.9,760.8 L686,763.5 L692.2,764.5 L699,757.2 L705.8,758.7 L712,759 L718.1,766.3 L725.7,769 L731.8,767.9 L738,766.8 L744.1,770.4 L751,774 L757.8,778.5 L763.9,780.2 L770.7,783.2 L776.9,784.3 L783.7,770.4 L789.9,770.9 L796.7,778.1 L802.9,778.8 L809.3,769.3 L815.8,758.6 L822.7,751.8 L828.8,751.5 L835.7,744.7 L842,740.8 L848.9,755.9 L855,758.6 L861.9,748.5 L868.7,752.2 L874.8,755.6 L881.7,755.6 L887.8,752.2 L894.7,741.7 L901.5,750.4 L908.3,754.9 L914.5,752.6 L921.3,753.1 L926.8,746.3 L934.3,749 L940.4,748.5 L947.3,741.2 L953.1,723.1 L960.3,728 L967.1,733 L973.2,734.8 L979.4,741.7 L986.2,741.7 L992.8,735.1 L999.2,717.3 L1006,726.6 L1011.5,726.9 L1018.3,723.1 L1025.2,719.8 L1032,718 L1038.1,723.5 L1045,720.7 L1051.1,715.7 L1058.2,713.9 L1064.9,709.7 L1071.6,710.4 L1077.6,720.6 L1084,714.6 L1091,724.3 L1097,728.5 L1103.7,732.9 L1110,730 L1117.4,735 L1123.8,734.4 L1130.5,733.5 L1136.5,728 L1143.2,716.5 L1149.1,725.8 L1155.8,730.2 L1162.8,724.3 L1169,734 L1176,730 L1181.9,729.1 L1188.6,730 L1195.3,726.5 L1202,721.3 L1207.7,729.5 L1214,729.5 L1220.7,730 L1228.1,742.5 L1234.1,737.7 L1240.8,735.5 L1247.5,732 L1254.2,729.5 L1260.9,734.4 L1266.9,730.5 L1273.6,730.5 L1273.6,769.5 Z" fill="url(#gOS)" clip-path="url(#cpOS)"/>
<line x1="11" y1="712.5" x2="1536" y2="712.5" stroke="#6a6d78" stroke-width="1.1" stroke-dasharray="5.5 5.5"/>
<line x1="11" y1="741.5" x2="1536" y2="741.5" stroke="#9598a1" stroke-width="1.1" stroke-dasharray="5.5 5.5"/>
<line x1="11" y1="769.5" x2="1536" y2="769.5" stroke="#6a6d78" stroke-width="1.1" stroke-dasharray="5.5 5.5"/>
<polyline points="10.9,725.5 41,727.2 71,729 88.8,730.3 123,726.6 136.6,728.3 153,729.6 164,732.4 177.6,734.4 191.3,737.8 205,744 213,745.3 221,745.8 237.3,744.9 251,745.3 264.7,742.6 278.3,740.3 292,733.7 305.7,728.5 319.3,725.8 333,723.9 346.7,722.1 360.3,723.5 374,724.4 387.6,726.9 401.3,727.6 415,726.2 433.7,722.1 447.3,719.4 461,719.8 482.9,720.7 502,725.8 521.1,735.8 536.2,740.8 556.6,744.4 577.1,747.1 595,748.1 614,746.7 629,749.4 646.4,749 665.5,749.4 684.7,752.9 701,755.9 723,757 739.3,761 759.8,766.5 777.6,770.4 794,771.7 807.6,774.5 824,772.3 837.7,769 853.7,763.8 867.3,759.4 881,757.2 894.7,752.9 907,750.8 922,751.2 935.7,752.2 946.6,750.1 963,745.3 976.6,743.3 990.3,741.9 999.9,738.5 1017.6,734 1034,728.5 1050,727.3 1064.9,724 1072.4,721.3 1084.3,719.1 1109.6,720.6 1124.5,722.5 1145.4,724.3 1169.3,728.5 1191.6,729.5 1214,728 1221.4,728.5 1234.9,730 1251.3,731 1273.6,731.4" fill="none" stroke="#f8e42c" stroke-width="1.3" stroke-linejoin="round"/>
<polyline points="10.9,735.4 19.1,731.7 26,730.3 39,730 44.4,726.5 51.9,735.5 58.7,730 64.2,727.6 70.8,721.8 77.6,730.3 84,733.7 90.8,725.8 97,724.8 104,720.3 110,722.1 123.6,721.4 129.5,736.7 136.6,744 142.8,735.8 150.3,740.3 155.8,740.3 162.9,748 168.7,744 174.9,744.9 181.7,747.1 194.7,756.7 202,752.6 207.7,751.5 215.5,743 222.3,739.9 228,730.3 234.9,738.9 240.7,741.7 248.3,742.6 254,740.8 260.8,727.2 266.7,725.3 274,734.4 280,725.3 286.8,721.2 293.4,713 299.5,710.8 306.3,714.9 312.5,718.4 319.3,718.4 326.2,722.1 333,725.8 339.1,726.6 346,723.2 352.1,738.1 358.7,741.2 364.7,732.1 371.2,732.6 378,730.3 385,731.7 391,728 397.5,718.7 404.7,717 410.9,711.2 417.7,707.5 423.9,700.2 430.9,706.7 437.1,709.8 444.3,715.3 450,727.6 456.9,735.8 463,737.6 469.9,740.3 476,732.6 482.9,729.4 489,744 495.8,738.9 502.7,740.6 508.8,746.3 516.3,751.5 522.2,751.5 528.6,747.4 534.8,743.3 541.6,746.7 548.5,750.1 555,753.5 561.4,750.8 568.3,751.5 574.4,748.5 581.2,744.9 587.4,743.3 594.2,744.4 600.6,741.2 607.2,744.9 613.8,745.8 619.8,760.8 627,762.7 633.4,759 640.2,751.8 646.1,740.6 653.2,746.3 659,755.3 665.8,749.9 672.4,756.3 678.9,760.8 686,763.5 692.2,764.5 699,757.2 705.8,758.7 712,759 718.1,766.3 725.7,769 731.8,767.9 738,766.8 744.1,770.4 751,774 757.8,778.5 763.9,780.2 770.7,783.2 776.9,784.3 783.7,770.4 789.9,770.9 796.7,778.1 802.9,778.8 809.3,769.3 815.8,758.6 822.7,751.8 828.8,751.5 835.7,744.7 842,740.8 848.9,755.9 855,758.6 861.9,748.5 868.7,752.2 874.8,755.6 881.7,755.6 887.8,752.2 894.7,741.7 901.5,750.4 908.3,754.9 914.5,752.6 921.3,753.1 926.8,746.3 934.3,749 940.4,748.5 947.3,741.2 953.1,723.1 960.3,728 967.1,733 973.2,734.8 979.4,741.7 986.2,741.7 992.8,735.1 999.2,717.3 1006,726.6 1011.5,726.9 1018.3,723.1 1025.2,719.8 1032,718 1038.1,723.5 1045,720.7 1051.1,715.7 1058.2,713.9 1064.9,709.7 1071.6,710.4 1077.6,720.6 1084,714.6 1091,724.3 1097,728.5 1103.7,732.9 1110,730 1117.4,735 1123.8,734.4 1130.5,733.5 1136.5,728 1143.2,716.5 1149.1,725.8 1155.8,730.2 1162.8,724.3 1169,734 1176,730 1181.9,729.1 1188.6,730 1195.3,726.5 1202,721.3 1207.7,729.5 1214,729.5 1220.7,730 1228.1,742.5 1234.1,737.7 1240.8,735.5 1247.5,732 1254.2,729.5 1260.9,734.4 1266.9,730.5 1273.6,730.5" fill="none" stroke="#7e57c2" stroke-width="1.15" stroke-linejoin="round"/>
<text x="18.4" y="709" font-size="12" fill="#434651" textLength="15" lengthAdjust="spacingAndGlyphs">RSI</text>
<text x="41.7" y="709" font-size="12" fill="#7e57c2" textLength="28.7" lengthAdjust="spacingAndGlyphs">56.67</text>
<text x="79" y="709" font-size="12" fill="#f8e42c" textLength="29" lengthAdjust="spacingAndGlyphs">56.30</text>
<text x="115.5" y="709" font-size="11" fill="#5d606b" textLength="7.5" lengthAdjust="spacingAndGlyphs">Ø</text>
<text x="130.5" y="709" font-size="11" fill="#5d606b" textLength="7.5" lengthAdjust="spacingAndGlyphs">Ø</text>
<text x="146.5" y="709" font-size="11" fill="#5d606b" textLength="7.5" lengthAdjust="spacingAndGlyphs">Ø</text>
<text x="161.5" y="709" font-size="11" fill="#5d606b" textLength="7.5" lengthAdjust="spacingAndGlyphs">Ø</text>
<text x="176.5" y="709" font-size="11" fill="#5d606b" textLength="7.5" lengthAdjust="spacingAndGlyphs">Ø</text>
<text x="191.7" y="709" font-size="11" fill="#5d606b" textLength="7.5" lengthAdjust="spacingAndGlyphs">Ø</text>
<!-- price axis ticks -->
<text x="1544.4" y="100.5" font-size="12" fill="#434651" textLength="42" lengthAdjust="spacingAndGlyphs">1.31000</text>
<text x="1544.4" y="198.5" font-size="12" fill="#434651" textLength="42" lengthAdjust="spacingAndGlyphs">1.29000</text>
<text x="1544.4" y="247.3" font-size="12" fill="#434651" textLength="42" lengthAdjust="spacingAndGlyphs">1.28000</text>
<text x="1544.4" y="345" font-size="12" fill="#434651" textLength="42" lengthAdjust="spacingAndGlyphs">1.26000</text>
<text x="1544.4" y="443" font-size="12" fill="#434651" textLength="42" lengthAdjust="spacingAndGlyphs">1.24000</text>
<text x="1544.4" y="492.3" font-size="12" fill="#434651" textLength="42" lengthAdjust="spacingAndGlyphs">1.23000</text>
<text x="1544.4" y="590" font-size="12" fill="#434651" textLength="42" lengthAdjust="spacingAndGlyphs">1.21000</text>
<text x="1544.4" y="688.3" font-size="12" fill="#434651" textLength="42" lengthAdjust="spacingAndGlyphs">1.19000</text>
<!-- USD -->
<rect x="1540.5" y="30.5" width="56" height="26.5" rx="4" fill="#fff" stroke="#e0e3eb"/>
<text x="1549.3" y="48.8" font-size="12" fill="#131722" textLength="20.6" lengthAdjust="spacingAndGlyphs">USD</text>
<!-- price labels -->
<rect x="1536" y="120" width="56" height="34" rx="2" fill="#131722"/>
<text x="1544.5" y="132.7" font-size="12" fill="#fff" font-weight="bold" textLength="41.5" lengthAdjust="spacingAndGlyphs">1.30000</text>
<text x="1544.5" y="149.7" font-size="12" fill="#fff" font-weight="bold" textLength="41.5" lengthAdjust="spacingAndGlyphs">1.30000</text>
<rect x="1483" y="264" width="52" height="17" rx="2" fill="#ef5350"/>
<text x="1487.7" y="276.7" font-size="12" fill="#fff" font-weight="bold" textLength="42.4" lengthAdjust="spacingAndGlyphs">GBPUSD</text>
<rect x="1536" y="264" width="60" height="31" rx="2" fill="#ef5350"/>
<text x="1544.5" y="276.7" font-size="12" fill="#fff" font-weight="bold" textLength="41.5" lengthAdjust="spacingAndGlyphs">1.27420</text>
<text x="1544.6" y="290.5" font-size="12" fill="#fbdada" font-weight="bold" textLength="46" lengthAdjust="spacingAndGlyphs">11:34:14</text>
<rect x="1536" y="295" width="56" height="17" rx="2" fill="#000000"/>
<text x="1544.5" y="307.7" font-size="12" fill="#fff" font-weight="bold" textLength="41.5" lengthAdjust="spacingAndGlyphs">1.27335</text>
<rect x="1484" y="339" width="51" height="17" rx="2" fill="#2a2aff"/>
<text x="1488.7" y="351.7" font-size="12" fill="#fff" font-weight="bold" textLength="41.8" lengthAdjust="spacingAndGlyphs">SMA:MA</text>
<rect x="1536" y="339" width="56" height="17" rx="2" fill="#2a2aff"/>
<text x="1544.5" y="351.7" font-size="12" fill="#fff" font-weight="bold" textLength="41.5" lengthAdjust="spacingAndGlyphs">1.25883</text>
<rect x="1536" y="356" width="56" height="34" rx="2" fill="#131722"/>
<text x="1544.5" y="368.7" font-size="12" fill="#fff" font-weight="bold" textLength="41.5" lengthAdjust="spacingAndGlyphs">1.25858</text>
<text x="1544.5" y="385.7" font-size="12" fill="#fff" font-weight="bold" textLength="41.5" lengthAdjust="spacingAndGlyphs">1.25841</text>
<rect x="1484" y="390" width="51" height="17" rx="2" fill="#f23645"/>
<text x="1488.7" y="402.7" font-size="12" fill="#fff" font-weight="bold" textLength="41.8" lengthAdjust="spacingAndGlyphs">SMA:MA</text>
<rect x="1536" y="390" width="56" height="17" rx="2" fill="#f23645"/>
<text x="1544.5" y="402.7" font-size="12" fill="#fff" font-weight="bold" textLength="41.5" lengthAdjust="spacingAndGlyphs">1.25435</text>
<rect x="1536" y="458" width="56" height="17" rx="2" fill="#000000"/>
<text x="1544.5" y="470.7" font-size="12" fill="#fff" font-weight="bold" textLength="41.5" lengthAdjust="spacingAndGlyphs">1.23460</text>
<rect x="1536" y="530" width="56" height="17" rx="2" fill="#000000"/>
<text x="1544.5" y="542.7" font-size="12" fill="#fff" font-weight="bold" textLength="41.5" lengthAdjust="spacingAndGlyphs">1.22001</text>
<rect x="1536" y="609" width="56" height="17" rx="2" fill="#000000"/>
<text x="1544.5" y="621.7" font-size="12" fill="#fff" font-weight="bold" textLength="41.5" lengthAdjust="spacingAndGlyphs">1.20385</text>
<rect x="1536" y="628" width="56" height="17" rx="2" fill="#9c27b0"/>
<text x="1544.5" y="640.7" font-size="12" fill="#fff" font-weight="bold" textLength="41.5" lengthAdjust="spacingAndGlyphs">1.20000</text>
<!-- RSI axis labels -->
<text x="1544.3" y="710" font-size="12" fill="#434651" textLength="29" lengthAdjust="spacingAndGlyphs">75.00</text>
<text x="1544.3" y="779.5" font-size="12" fill="#434651" textLength="29" lengthAdjust="spacingAndGlyphs">25.00</text>
<rect x="1443" y="706.5" width="137" height="16.5" fill="#fff"/>
<text x="1447.3" y="718.5" font-size="12" fill="#131722" textLength="82" lengthAdjust="spacingAndGlyphs">Regular Bearish</text><text x="1544.3" y="719" font-size="12" fill="#131722" textLength="28.8" lengthAdjust="spacingAndGlyphs">63.66</text>
<rect x="1509" y="723" width="26" height="16.5" rx="2" fill="#7e57c2"/>
<rect x="1536" y="723" width="43" height="16.5" rx="2" fill="#7e57c2"/>
<text x="1514" y="736" font-size="12" fill="#fff" font-weight="bold" textLength="16" lengthAdjust="spacingAndGlyphs">RSI</text><text x="1544.3" y="736" font-size="12" fill="#fff" font-weight="bold" textLength="28.8" lengthAdjust="spacingAndGlyphs">56.67</text>
<rect x="1455" y="740" width="80" height="17" rx="2" fill="#ffeb3b"/>
<rect x="1536" y="740" width="43" height="17" rx="2" fill="#ffeb3b"/>
<text x="1459.8" y="753" font-size="12" fill="#131722" textLength="70" lengthAdjust="spacingAndGlyphs">RSI-based MA</text><text x="1544.3" y="753" font-size="12" fill="#131722" textLength="28.8" lengthAdjust="spacingAndGlyphs">56.30</text>
<rect x="1446" y="757" width="134" height="13" fill="#fff"/>
<!-- time axis -->
<text x="77.8" y="812" font-size="12" fill="#434651" text-anchor="middle" textLength="21" lengthAdjust="spacingAndGlyphs">May</text>
<text x="228.2" y="812" font-size="12" fill="#434651" text-anchor="middle" textLength="18.6" lengthAdjust="spacingAndGlyphs">Jun</text>
<text x="371.8" y="812" font-size="12" fill="#434651" text-anchor="middle" textLength="15.7" lengthAdjust="spacingAndGlyphs">Jul</text>
<text x="509.1" y="812" font-size="12" fill="#434651" text-anchor="middle" textLength="18.8" lengthAdjust="spacingAndGlyphs">Aug</text>
<text x="659.5" y="812" font-size="12" fill="#434651" text-anchor="middle" textLength="19" lengthAdjust="spacingAndGlyphs">Sep</text>
<text x="796.5" y="812" font-size="12" fill="#434651" text-anchor="middle" textLength="18" lengthAdjust="spacingAndGlyphs">Oct</text>
<text x="940.2" y="812" font-size="12" fill="#434651" text-anchor="middle" textLength="20" lengthAdjust="spacingAndGlyphs">Nov</text>
<text x="1084.4" y="812" font-size="12" fill="#434651" text-anchor="middle" textLength="19.7" lengthAdjust="spacingAndGlyphs">Dec</text>
<text x="1222" y="812" font-size="12" fill="#434651" text-anchor="middle" textLength="27.3" lengthAdjust="spacingAndGlyphs" stroke="#434651" stroke-width="0.5">2024</text>
<text x="1372" y="812" font-size="12" fill="#434651" text-anchor="middle" textLength="18" lengthAdjust="spacingAndGlyphs">Feb</text>
<text x="1505" y="812" font-size="12" fill="#434651" text-anchor="middle" textLength="20" lengthAdjust="spacingAndGlyphs">Mar</text>
<!-- TV logo -->
<g fill="#131722">
<path d="M10 834 H17.7 V843.7 H14 V837.7 H10 Z"/>
<circle cx="21.1" cy="836" r="1.9"/>
<path d="M25.4 834 H29.6 L25.7 843.7 H21.3 Z"/>
</g>
<text x="33.5" y="844" font-size="13" fill="#131722" textLength="70" lengthAdjust="spacingAndGlyphs">TradingView</text>
<!-- watermark -->
<g fill="#ffffff" filter="url(#wsh)">
<polygon points="1377.42,765 1389.42,765 1385.97,780 1373.97,780"/>
<polygon points="1376.51,782 1385.51,782 1383.21,792 1374.21,792"/>
<polygon points="1362,819 1372,819 1383,797 1373,797"/>
<polygon points="1388.19,766 1426.19,766 1424.35,774 1386.35,774"/>
<polygon points="1387.89,776 1421.89,776 1420.05,784 1386.05,784"/>
<polygon points="1387.89,776 1393.89,776 1384,819 1378,819"/>
<polygon points="1416.19,766 1426.19,766 1414,819 1404,819"/>
<polygon points="1375.98,793 1421.98,793 1420.37,800 1374.37,800"/>
<polygon points="1379.84,811 1415.84,811 1414,819 1378,819"/>
<polygon points="1406,784 1408.5,784 1411.5,793 1409,793"/>
<polygon points="1400,800 1402.5,800 1406.5,810 1404,810"/>
<polygon points="1437.96,767 1477.96,767 1476.69,772.5 1436.69,772.5"/>
<polygon points="1435.96,767 1441.96,767 1437.59,786 1431.59,786"/>
<polygon points="1477.96,767 1486.96,767 1475,819 1466,819"/>
<polygon points="1430.06,797 1475.06,797 1472.41,808.5 1427.41,808.5"/>
<polygon points="1451.84,811 1476.84,811 1475,819 1450,819"/>
<polygon points="1492.73,768 1500.73,768 1491.99,806 1483.99,806"/>
<polygon points="1511.73,768 1519.73,768 1510.99,806 1502.99,806"/>
<polygon points="1492.73,768 1519.73,768 1518.35,774 1491.35,774"/>
<polygon points="1485.14,801 1512.14,801 1510.99,806 1483.99,806"/>
<polygon points="1487,806 1494,806 1484,819 1477,819"/>
<polygon points="1500,806 1507,806 1512,817 1505,817"/>
<polygon points="1518.81,772 1540.81,772 1539.43,778 1517.43,778"/>
<polygon points="1528.19,766 1537.19,766 1525,819 1516,819"/>
<polygon points="1506.61,812 1526.61,812 1525,819 1505,819"/>
<polygon points="1521,784 1528,784 1511,806 1504,806"/>
<polygon points="1540.73,768 1548.73,768 1537,819 1529,819"/>
<polygon points="1548.51,782 1560.51,782 1558.67,790 1546.67,790"/>
<polygon points="1543.29,796 1557.29,796 1555.68,803 1541.68,803"/>
<polygon points="1577.19,766 1594.19,766 1592.58,773 1575.58,773"/>
<polygon points="1597,766 1610,766 1574,797 1561,797"/>
<polygon points="1574,778 1583,778 1602,792 1593,792"/>
<polygon points="1550.83,798 1602.83,798 1601.22,805 1549.22,805"/>
<polygon points="1574.67,790 1583.67,790 1577,819 1568,819"/>
<polygon points="1541.84,811 1597.84,811 1596.23,818 1540.23,818"/>
</g>
<text x="1451" y="769" font-size="12" fill="#131722" textLength="78.5" lengthAdjust="spacingAndGlyphs">Regular Bullish</text><text x="1544.3" y="769.5" font-size="12" fill="#131722" textLength="28.8" lengthAdjust="spacingAndGlyphs">48.50</text>
<text x="1377" y="852" font-size="33" font-weight="bold" font-style="italic" fill="#a2a2ea" stroke="#a2a2ea" stroke-width="1.6" stroke-linejoin="round" textLength="221" lengthAdjust="spacing" filter="url(#zsh)">zzrt01.cn</text>
</svg>
</body></html>
